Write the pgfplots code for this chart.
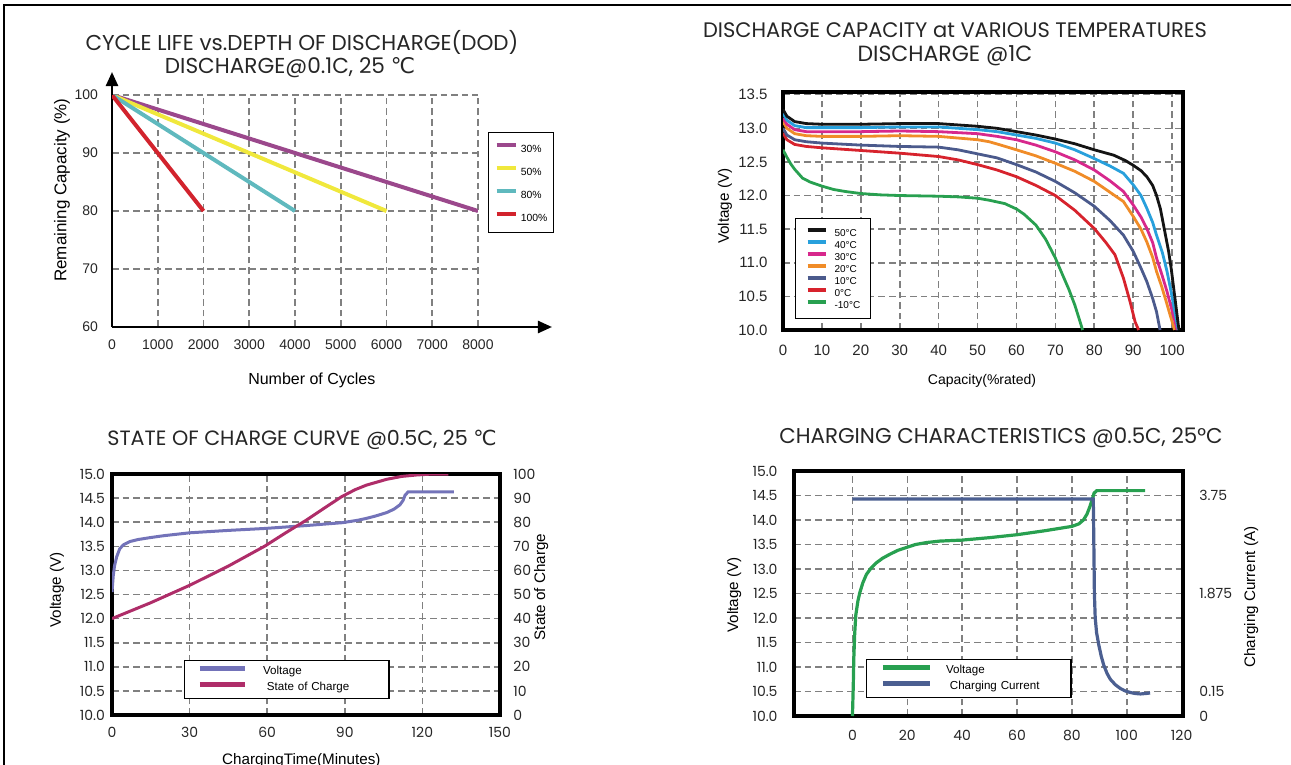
\documentclass[border=0pt]{standalone}
\usepackage{fontspec}
\setmainfont{Liberation Sans}
\newfontfamily\pop{Poppins}
\newfontfamily\dejavu{DejaVu Sans}
\usepackage{pgfplots}
\pgfplotsset{compat=1.18}
\usetikzlibrary{arrows.meta}

\definecolor{gridc}{RGB}{128,128,128}
% cycle life
\definecolor{d30}{RGB}{155,72,140}
\definecolor{d50}{RGB}{240,232,60}
\definecolor{d80}{RGB}{95,185,190}
\definecolor{d100}{RGB}{210,35,45}
% temperatures
\definecolor{t50}{RGB}{20,20,20}
\definecolor{t40}{RGB}{40,160,220}
\definecolor{t30}{RGB}{215,40,140}
\definecolor{t20}{RGB}{240,140,40}
\definecolor{t10}{RGB}{75,90,140}
\definecolor{t0}{RGB}{215,35,45}
\definecolor{tm10}{RGB}{40,160,80}
% charge curves
\definecolor{volt}{RGB}{115,115,185}
\definecolor{soc}{RGB}{175,45,105}
\definecolor{cgreen}{RGB}{40,160,80}
\definecolor{ccur}{RGB}{75,95,145}

\pgfplotsset{
  panel/.style={
    scale only axis, anchor=south west,
    major tick length=0pt,
    /pgf/number format/assume math mode=true,
    /pgf/number format/1000 sep={},
    grid=major,
    grid style={gridc, line width=0.8pt, dash pattern=on 3.3pt off 2pt},
    label style={font=\fontsize{7.6}{8}\selectfont},
    tick label style={font=\fontsize{7}{8}\selectfont, text=black!85},
  },
  onedec/.style={yticklabel style={/pgf/number format/fixed, /pgf/number format/fixed zerofill, /pgf/number format/precision=1}},
  poptick/.style={tick label style={font=\pop\fontsize{7}{8}\selectfont, text=black!85}},
}
\newcommand\tf[1]{\pop\fontsize{#1}{12}\selectfont}

\begin{document}
\begin{tikzpicture}
\useasboundingbox (0,0) rectangle (645.5pt,-382.5pt);
\clip (0,0) rectangle (645.5pt,-382.5pt);
\draw[line width=1pt] (2.2pt,-382.5pt) -- (2.2pt,-2.3pt) -- (645.5pt,-2.3pt);

% titles
\begin{scope}[every node/.style={text=black!85, inner sep=0pt}]
\node[font=\tf{10.75}] at (151pt,-21pt) {CYCLE LIFE vs.DEPTH OF DISCHARGE(DOD)};
\node[font=\tf{10.8}] at (145pt,-34pt) {DISCHARGE@0.1C, 25 {\dejavu ℃}};
\node[font=\tf{10.5}] at (477.5pt,-15pt) {DISCHARGE CAPACITY at VARIOUS TEMPERATURES};
\node[font=\tf{11}] at (472.5pt,-28pt) {DISCHARGE @1C};
\node[font=\tf{10.35}] at (151pt,-220pt) {STATE OF CHARGE CURVE @0.5C, 25 {\dejavu ℃}};
\node[font=\tf{10.7}] at (500.5pt,-219pt) {CHARGING CHARACTERISTICS @0.5C, 25°C};
\end{scope}

% ---------- cycle life vs DOD
\begin{axis}[panel,
  at={(56pt,-163.5pt)}, width=183pt, height=116pt,
  xmin=0, xmax=8000, ymin=60, ymax=100,
  axis lines=left,
  axis line style={line width=1.2pt, black},
  x axis line style={-{Triangle[length=7pt,width=6pt]}, shorten >=-37pt},
  y axis line style={-{Triangle[length=7pt,width=6pt]}, shorten >=-11.5pt},
  xtick={0,1000,...,8000}, ytick={60,70,80,90,100},
  xticklabel style={yshift=-3pt}, yticklabel style={xshift=-3.5pt},
  xlabel={Number of Cycles}, ylabel={Remaining Capacity  (\%)},
  xlabel style={at={(axis description cs:0.546,-0.228)}, anchor=center, font=\fontsize{8}{9}\selectfont},
  ylabel style={at={(axis description cs:-0.137,0.59)}, anchor=center, font=\fontsize{8.5}{9}\selectfont},
  legend style={at={(1.027,0.8405)}, anchor=north west, draw=black, line width=0.6pt, fill=white,
    inner xsep=3pt, inner ysep=5pt, row sep=6.2pt, font=\fontsize{5.2}{6}\selectfont,
    nodes={inner sep=0pt, text height=4pt, text depth=0.5pt},
    /tikz/every odd column/.style={column sep=1.5pt}},
  legend cell align=left,
  legend image code/.code={\draw[#1, line width=2.2pt] (0pt,2pt) -- (9.5pt,2pt);},
]
\addplot[d30, line width=2pt] coordinates {(0,100) (8000,80)};
\addlegendentry{30\%}
\addplot[d50, line width=2pt] coordinates {(0,100) (6000,80)};
\addlegendentry{50\%}
\addplot[d80, line width=2pt] coordinates {(0,100) (4000,80)};
\addlegendentry{80\%}
\addplot[d100, line width=2pt] coordinates {(0,100) (2000,80)};
\addlegendentry{100\%}
\end{axis}

% ---------- discharge capacity at various temperatures
\begin{axis}[panel, onedec,
  at={(391.5pt,-165pt)}, width=200pt, height=119pt,
  xmin=0, xmax=102.8, ymin=10, ymax=13.54,
  axis line style={line width=2pt},
  xtick={0,10,...,100}, ytick={10,10.5,...,13.5},
  tick label style={font=\fontsize{7.5}{8}\selectfont},
  xticklabel style={yshift=-4pt}, yticklabel style={xshift=-4.2pt},
  xlabel={Capacity(\%rated)}, ylabel={Voltage (V)},
  xlabel style={at={(axis description cs:0.4975,-0.214)}, anchor=center, font=\fontsize{7}{8}\selectfont},
  ylabel style={at={(axis description cs:-0.145,0.52)}, anchor=center},
  legend style={at={(0.03,0.4706)}, anchor=north west, draw=black, line width=0.6pt, fill=white,
    inner xsep=5pt, inner ysep=4.6pt, row sep=1.2pt, font=\fontsize{5}{5}\selectfont,
    nodes={inner sep=0pt, text height=3.6pt, text depth=0.4pt},
    /tikz/every odd column/.style={column sep=3.5pt}},
  legend cell align=left, reverse legend,
  legend image code/.code={\draw[#1, line width=2pt] (0pt,1.8pt) -- (9pt,1.8pt);},
]
\addplot[tm10, line width=1.4pt] coordinates {(0,12.68) (1,12.57) (2,12.47) (3,12.39) (5,12.26) (7,12.2) (10,12.14) (13,12.09) (16,12.06) (20,12.03) (25,12.01) (30,12.0) (40,11.99) (45,11.98) (50,11.96) (53,11.93) (57,11.88) (60,11.8) (62,11.72) (65,11.56) (67.5,11.35) (70,11.07) (72,10.8) (73.5,10.6) (75,10.37) (76.2,10.15) (77,10.0)};
\addlegendentry{-10°C}
\addplot[t0, line width=1.4pt] coordinates {(0,12.93) (1,12.83) (3,12.76) (6,12.73) (10,12.71) (20,12.67) (30,12.63) (40,12.58) (45,12.53) (50,12.46) (55,12.38) (60,12.28) (65,12.15) (70,12.0) (75,11.78) (80,11.51) (83,11.3) (85.3,11.12) (87.5,10.77) (89.2,10.42) (90.5,10.12) (91.4,10.0)};
\addlegendentry{0°C}
\addplot[t10, line width=1.4pt] coordinates {(0,13.0) (1,12.9) (3,12.83) (6,12.8) (10,12.78) (20,12.75) (30,12.73) (40,12.72) (45,12.68) (50,12.62) (55,12.56) (60,12.46) (65,12.35) (70,12.21) (75,12.04) (80,11.84) (84,11.63) (87.5,11.41) (90,11.17) (92,10.92) (93.5,10.72) (95,10.47) (96,10.27) (96.9,10.0)};
\addlegendentry{10°C}
\addplot[t20, line width=1.4pt] coordinates {(0,13.1) (1,13.0) (3,12.92) (6,12.89) (10,12.88) (20,12.88) (30,12.89) (40,12.88) (50,12.83) (53,12.8) (56,12.75) (60,12.68) (65,12.59) (70,12.48) (75,12.36) (80,12.21) (84,12.05) (87.5,11.91) (90,11.69) (92,11.5) (93.5,11.31) (95,11.08) (96,10.87) (97.3,10.65) (98.5,10.42) (99.5,10.22) (100.3,10.07) (100.6,10.0)};
\addlegendentry{20°C}
\addplot[t30, line width=1.4pt] coordinates {(0,13.15) (1,13.06) (3,12.98) (6,12.95) (10,12.95) (20,12.95) (30,12.96) (40,12.95) (50,12.92) (55,12.88) (60,12.83) (65,12.75) (70,12.65) (75,12.53) (80,12.38) (84,12.22) (87.5,12.06) (90,11.86) (92,11.68) (93.5,11.51) (95,11.3) (96,11.07) (97.5,10.8) (98.7,10.57) (99.7,10.35) (100.5,10.18) (101.3,10.0)};
\addlegendentry{30°C}
\addplot[t40, line width=1.4pt] coordinates {(0,13.22) (1,13.12) (3,13.04) (6,13.01) (10,13.01) (20,13.01) (30,13.02) (40,13.02) (50,12.98) (55,12.95) (60,12.9) (65,12.85) (70,12.78) (75,12.68) (80,12.55) (84,12.44) (87.5,12.33) (90,12.16) (92,12.0) (93.5,11.81) (95,11.6) (96,11.41) (97.5,11.15) (98.7,10.87) (99.8,10.55) (100.7,10.27) (101.6,10.0)};
\addlegendentry{40°C}
\addplot[t50, line width=1.4pt] coordinates {(0,13.28) (1,13.18) (3,13.1) (6,13.07) (10,13.06) (20,13.06) (30,13.07) (40,13.07) (50,13.03) (55,13.0) (60,12.95) (65,12.9) (70,12.84) (75,12.77) (80,12.68) (85,12.6) (88,12.52) (90,12.45) (92,12.37) (93.5,12.28) (95,12.15) (96,12.0) (97,11.8) (97.8,11.56) (98.5,11.35) (99.1,11.17) (99.8,10.9) (100.3,10.67) (101,10.35) (101.6,10.07) (101.8,10.0)};
\addlegendentry{50°C}
\end{axis}

% ---------- state of charge curve
\begin{axis}[panel, onedec, poptick,
  at={(56pt,-357.5pt)}, width=194pt, height=120.5pt,
  xmin=0, xmax=150, ymin=10, ymax=15,
  axis line style={line width=2pt},
  xtick={0,30,...,150}, ytick={10,10.5,...,15},
  xticklabel style={yshift=-2.7pt}, yticklabel style={xshift=0pt},
  xlabel={ChargingTime(Minutes)}, ylabel={Voltage (V)},
  xlabel style={at={(axis description cs:0.488,-0.2035)}, anchor=base},
  ylabel style={at={(axis description cs:-0.142,0.519)}, anchor=center},
]
\addplot[volt, line width=1.5pt] coordinates {(0,12.55) (0.5,12.9) (1,13.1) (1.8,13.28) (3,13.45) (4.4,13.53) (7,13.6) (10,13.64) (14.7,13.68) (20,13.72) (30,13.78) (45,13.83) (59,13.87) (75,13.93) (89,13.99) (95,14.04) (98.4,14.08) (102,14.13) (106.2,14.2) (109,14.27) (111.3,14.36) (112.5,14.45) (113.3,14.56) (114.5,14.63) (120,14.63) (132.2,14.63)};
\end{axis}
\begin{axis}[panel, poptick,
  at={(56pt,-357.5pt)}, width=194pt, height=120.5pt,
  xmin=0, xmax=150, ymin=0, ymax=100, grid=none,
  axis y line*=right, axis x line=none,
  axis line style={line width=2pt},
  ytick={0,10,...,100}, yticklabel style={xshift=3.2pt},
  ylabel={State of Charge},
  ylabel style={at={(axis description cs:1.106,0.531)}, anchor=center},
  legend style={at={(0.1856,0.2282)}, anchor=north west, draw=black, line width=0.6pt, fill=white,
    inner xsep=6.5pt, inner ysep=2.75pt, row sep=2.5pt, font=\fontsize{5.8}{6}\selectfont,
    nodes={inner sep=0pt, text height=4.2pt, text depth=1.3pt},
    /tikz/every odd column/.style={column sep=8pt},
    /tikz/every even column/.style={text width=56.5pt}},
  legend cell align=left,
  legend image code/.code={\draw[#1, line width=2.2pt] (0pt,1.5pt) -- (22.5pt,1.5pt);},
]
\addlegendimage{volt, line width=1.5pt}
\addlegendentry{Voltage}
\addplot[soc, line width=1.5pt] coordinates {(0,40) (15,46.6) (30.2,53.9) (45,61.8) (59.1,70.1) (67,75.5) (75.2,80.9) (82,85.8) (88.8,90.6) (94,93.5) (98.4,95.4) (106.2,97.8) (112,99) (117.8,99.6) (124,100) (130,100)};
\addlegendentry{\ State of Charge}
\end{axis}

% ---------- charging characteristics
\begin{axis}[panel, onedec, poptick,
  at={(397pt,-358pt)}, width=194.5pt, height=122.5pt,
  xmin=-21.3, xmax=120.5, ymin=10, ymax=15,
  axis line style={line width=2pt},
  xtick={0,20,...,100}, extra x ticks={120}, extra x tick style={grid=none},
  ytick={10,10.5,...,15},
  xticklabel style={yshift=-3.6pt}, yticklabel style={xshift=-4.7pt},
  ylabel={Voltage (V)},
  ylabel style={at={(axis description cs:-0.154,0.494)}, anchor=center},
]
\addplot[cgreen, line width=1.6pt] coordinates {(0,10.0) (0.3,10.6) (0.5,11.17) (0.8,11.65) (1.2,12.05) (2,12.35) (2.7,12.52) (3.8,12.72) (5.1,12.89) (6.8,13.02) (8.8,13.13) (11,13.22) (13.6,13.3) (16.5,13.38) (19.7,13.44) (23,13.5) (27,13.54) (31.9,13.57) (40,13.59) (50,13.64) (60,13.7) (70,13.78) (80,13.87) (82.5,13.92) (84.2,14.0) (85.5,14.12) (86.6,14.28) (87.4,14.42) (88.1,14.55) (89.1,14.6) (100,14.6) (106.7,14.6)};
\end{axis}
\begin{axis}[panel, poptick,
  at={(397pt,-358pt)}, width=194.5pt, height=122.5pt,
  xmin=-21.3, xmax=120.5, ymin=10, ymax=15, grid=none,
  axis y line*=right, axis x line=none,
  axis line style={line width=2pt},
  ytick={10,10.5,12.5,14.5}, yticklabels={0,0.15,1.875,3.75},
  yticklabel style={xshift=4.7pt},
  ylabel={Charging Current (A)},
  ylabel style={at={(axis description cs:1.175,0.486)}, anchor=center},
  legend style={at={(0.1851,0.2327)}, anchor=north west, draw=black, line width=0.6pt, fill=white,
    inner xsep=7pt, inner ysep=2.75pt, row sep=2.5pt, font=\fontsize{5.8}{6}\selectfont,
    nodes={inner sep=0pt, text height=4.2pt, text depth=1.3pt},
    /tikz/every odd column/.style={column sep=7pt},
    /tikz/every even column/.style={text width=55.5pt}},
  legend cell align=left,
  legend image code/.code={\draw[#1, line width=2.2pt] (0pt,1.5pt) -- (23.5pt,1.5pt);},
]
\addlegendimage{cgreen, line width=1.6pt}
\addlegendentry{Voltage}
\addplot[ccur, line width=1.6pt] coordinates {(0,14.43) (87.8,14.43) (88.0,13.5) (88.2,12.5) (88.5,12.0) (89.0,11.7) (89.8,11.45) (90.7,11.22) (91.6,11.04) (92.8,10.87) (94,10.75) (95.8,10.64) (97.7,10.56) (99.5,10.51) (101.3,10.48) (103,10.46) (105,10.45) (107,10.46) (108.5,10.47)};
\addlegendentry{\ Charging Current}
\end{axis}
\end{tikzpicture}
\end{document}
